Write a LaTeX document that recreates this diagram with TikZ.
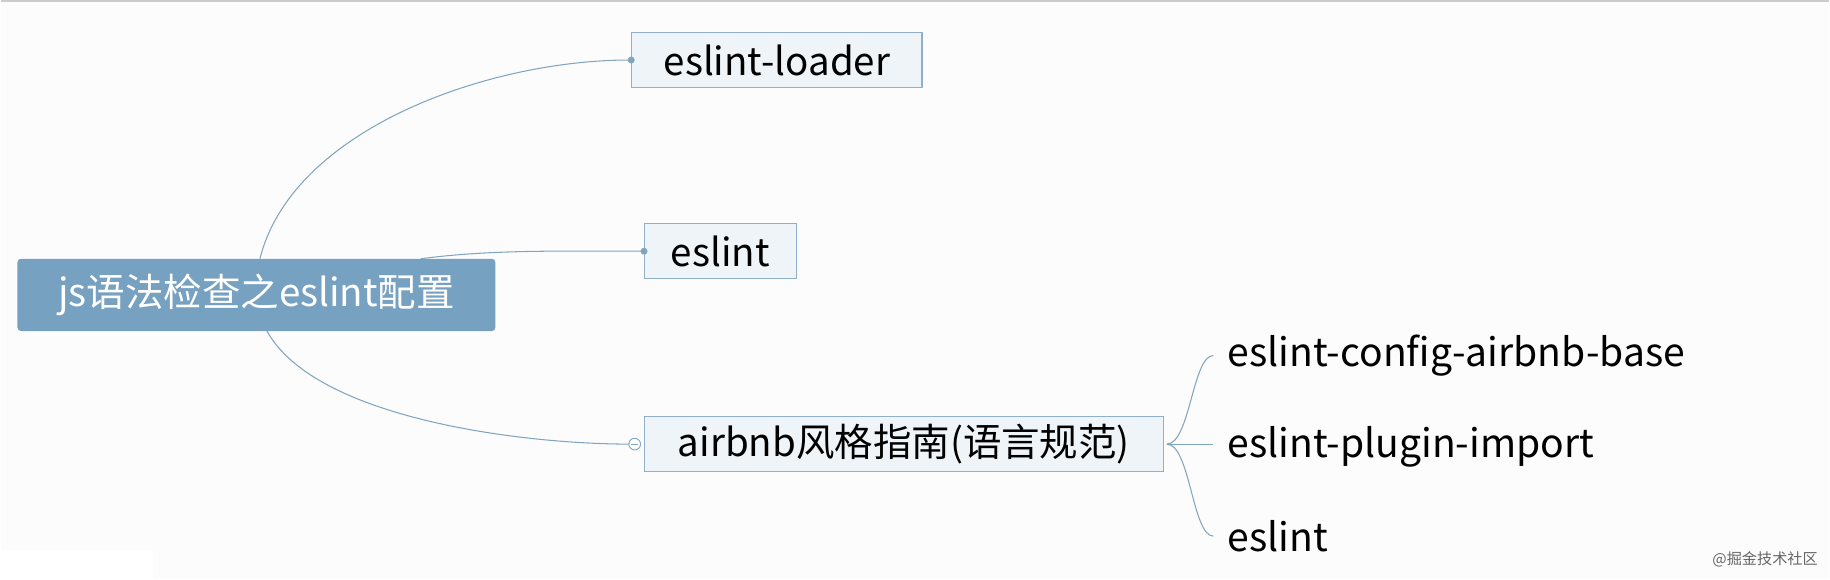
\documentclass[tikz,border=0pt]{standalone}
\usepackage{fontspec}
\setmainfont{Noto Sans CJK SC}
\usetikzlibrary{positioning}
\definecolor{rootblue}{RGB}{119,161,192}
\definecolor{boxfill}{RGB}{238,244,248}
\definecolor{boxline}{RGB}{143,176,200}
\definecolor{linkblue}{RGB}{130,165,190}
\begin{document}
\begin{tikzpicture}[x=1pt,y=-1pt,
    rootbox/.style={fill=rootblue, rounded corners=3pt, text=white, font=\fontsize{33}{33}\selectfont, minimum width=410pt, minimum height=62pt, inner sep=0pt},
    topicbox/.style={fill=boxfill, draw=boxline, line width=1pt, font=\fontsize{33}{33}\selectfont, minimum height=47pt, inner sep=0pt},
    leaf/.style={font=\fontsize{33.5}{33.5}\selectfont, anchor=west, inner sep=0pt},
    link/.style={linkblue, line width=0.9pt}]
    % Canvas
    \fill[white!98!gray] (0,0) rectangle (1568,497);
    \draw[gray!40, line width=2pt] (0,1) -- (1568,1);
    \fill[white] (0,472) rectangle (130,497);

    % Root
    \node[rootbox] (root) at (219,253) {js语法检查之eslint配置};

    % Topics
    \node[topicbox, minimum width=249pt] (loader) at (665.5,51.5) {eslint-loader};
    \node[topicbox, minimum width=130pt] (lint) at (617,215.5) {eslint};
    \node[topicbox, minimum width=445pt] (airbnb) at (774.5,381) {airbnb风格指南(语言规范)};

    % Leaves
    \node[leaf] (base) at (1052,305) {eslint-config-airbnb-base};
    \node[leaf] (plugin) at (1052,383) {eslint-plugin-import};
    \node[leaf] (lint2) at (1052,460) {eslint};

    % Connectors
    \coordinate (r1) at (222,222);
    \coordinate (r2) at (360,222);
    \coordinate (r3) at (228,284);
    \draw[link] (r1) .. controls (250,110) and (420,51) .. (loader.west);
    \fill[linkblue] (loader.west) circle (3pt);
    \draw[link] (r2) .. controls (420,214) and (480,215.5) .. (lint.west);
    \fill[linkblue] (lint.west) circle (3pt);
    \draw[link] (r3) .. controls (270,360) and (450,381) .. ([xshift=-13pt]airbnb.west);
    \draw[linkblue, fill=white, line width=0.8pt] ([xshift=-8pt]airbnb.west) circle (5pt);
    \draw[linkblue, line width=0.8pt] ([xshift=-11pt]airbnb.west) -- ([xshift=-5pt]airbnb.west);

    \coordinate (fork) at (1000,381);
    \draw[link] (fork) .. controls (1020,381) and (1022,305) .. ([xshift=-12pt]base.west);
    \draw[link] (fork) -- ([xshift=-12pt]base.west |- fork);
    \draw[link] (fork) .. controls (1020,381) and (1022,460) .. ([xshift=-12pt]lint2.west);

    % Watermark
    \node[font=\fontsize{13}{13}\selectfont, text=gray!80!black, anchor=east] (mark) at (1562,480) {@掘金技术社区};
\end{tikzpicture}
\end{document}
